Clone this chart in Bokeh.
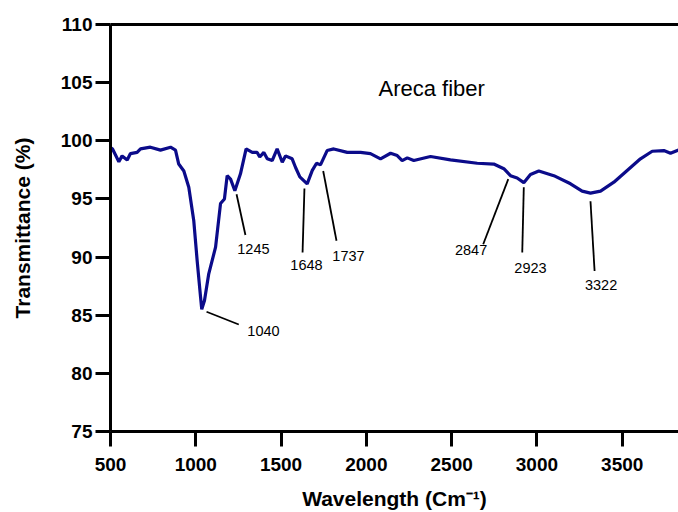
from bokeh.plotting import figure
from bokeh.models import LinearAxis, FixedTicker, Range1d
from bokeh.core.properties import value
from bokeh.embed import file_html
from bokeh.resources import INLINE

# Spectrum (wavenumber, transmittance %)
wavenumber = [500, 512, 549, 568, 598, 617, 656, 676, 734, 793, 852, 881, 900, 930,
              959, 988, 1008, 1028, 1035, 1051, 1076, 1116, 1145, 1168, 1184, 1204,
              1229, 1262, 1295, 1331, 1360, 1375, 1399, 1419, 1448, 1477, 1507, 1526,
              1565, 1585, 1610, 1653, 1683, 1708, 1731, 1770, 1809, 1888, 1966, 2024,
              2083, 2142, 2181, 2210, 2240, 2278, 2376, 2493, 2650, 2747, 2806, 2845,
              2884, 2923, 2962, 3011, 3099, 3197, 3265, 3314, 3373, 3451, 3529, 3607,
              3676, 3744, 3783, 3830]
transmittance = [99.4, 99.3, 98.2, 98.7, 98.35, 98.9, 99.0, 99.3, 99.45, 99.2, 99.45, 99.2,
                 98.0, 97.4, 96.0, 93.15, 89.7, 86.55, 85.5, 86.27, 88.56, 90.85, 94.6,
                 95.0, 97.0, 96.7, 95.7, 97.16, 99.3, 99.0, 99.0, 98.6, 99.0, 98.45, 98.3,
                 99.3, 98.15, 98.7, 98.45, 97.7, 96.9, 96.3, 97.45, 98.07, 97.93, 99.16,
                 99.3, 99.0, 99.0, 98.9, 98.45, 98.93, 98.73, 98.3, 98.53, 98.3, 98.65,
                 98.36, 98.07, 98.0, 97.6, 97.0, 96.8, 96.4, 97.1, 97.4, 97.0, 96.3, 95.67,
                 95.5, 95.67, 96.44, 97.45, 98.45, 99.1, 99.16, 98.93, 99.2]

# Peak annotations: label, leader line (x0, y0) -> (x1, y1), label position
peak_labels = ["1040", "1245", "1648", "1737", "2847", "2923", "3322"]
lead_x0 = [1063, 1239, 1637, 1747, 2832, 2923, 3314]
lead_y0 = [85.3, 95.4, 95.9, 97.4, 96.7, 96.0, 94.8]
lead_x1 = [1252, 1291, 1626, 1825, 2685, 2914, 3338]
lead_y1 = [84.2, 91.9, 90.4, 91.4, 91.1, 90.4, 88.8]
label_x = [1397, 1338, 1649, 1895, 2614, 2962, 3376]
label_y = [83.6, 90.7, 89.3, 90.1, 90.6, 89.1, 87.6]

x_ticks = [500, 1000, 1500, 2000, 2500, 3000, 3500]
y_ticks = [75, 80, 85, 90, 95, 100, 105, 110]

FONT = "Liberation Sans"

p = figure(width=678, height=512, output_backend="svg", toolbar_location=None,
           x_range=Range1d(500, 3830), y_range=Range1d(75, 110),
           min_border_left=110, min_border_right=0, min_border_top=24,
           min_border_bottom=81)
p.grid.visible = False
p.outline_line_color = None
p.background_fill_color = "white"

p.line(wavenumber, transmittance, line_color="#0b0b8a", line_width=3.2)

p.segment(x0=lead_x0, y0=lead_y0, x1=lead_x1, y1=lead_y1,
          line_color="black", line_width=1.8)
p.text(x=label_x, y=label_y, text=peak_labels, text_font=value(FONT),
       text_font_size="14.5px", text_align="center", text_baseline="middle",
       text_color="black")
p.text(x=[2071], y=[104.5], text=["Areca fiber"], text_font=value(FONT),
       text_font_size="22px", text_align="left", text_baseline="middle",
       text_color="black")

for ax in (p.xaxis[0], p.yaxis[0]):
    ax.axis_line_width = 3
    ax.axis_line_color = "black"
    ax.major_tick_line_width = 3
    ax.major_tick_line_color = "black"
    ax.major_tick_out = 15
    ax.major_tick_in = 0
    ax.minor_tick_line_color = None
    ax.major_label_text_font = FONT
    ax.major_label_text_font_style = "bold"
    ax.major_label_text_font_size = "19px"
    ax.major_label_text_color = "black"
    ax.axis_label_text_font = FONT
    ax.axis_label_text_font_style = "bold"
    ax.axis_label_text_font_size = "21px"
    ax.axis_label_text_color = "black"

p.xaxis[0].ticker = FixedTicker(ticks=x_ticks)
p.yaxis[0].ticker = FixedTicker(ticks=y_ticks)
p.xaxis[0].axis_label = "Wavelength (Cm\u207b\u00b9)"
p.yaxis[0].axis_label = "Transmittance (%)"
p.xaxis[0].major_label_standoff = 11
p.xaxis[0].axis_label_standoff = 13
p.yaxis[0].major_label_standoff = 3
p.yaxis[0].axis_label_standoff = 24

top = LinearAxis(ticker=FixedTicker(ticks=[]), axis_line_width=3,
                 axis_line_color="black", major_label_text_font_size="0px",
                 major_tick_line_color=None, minor_tick_line_color=None)
p.add_layout(top, "above")

open("out.html", "w").write(file_html(p, INLINE))
